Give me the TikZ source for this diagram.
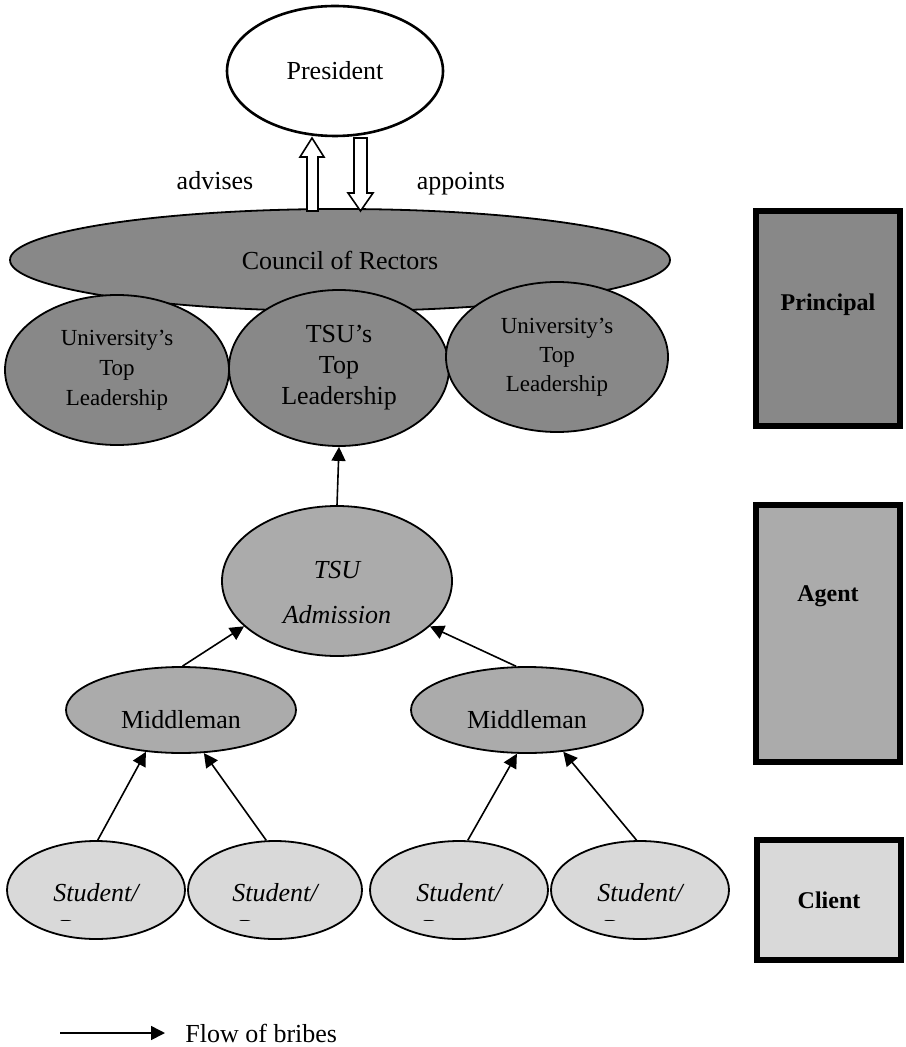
\documentclass[tikz,border=0pt]{standalone}
\usepackage{fontspec}
\setmainfont{Liberation Serif}
\usetikzlibrary{shapes.geometric,arrows.meta}

\definecolor{darkfill}{HTML}{888888}
\definecolor{midfill}{HTML}{ABABAB}
\definecolor{lightfill}{HTML}{D9D9D9}

\tikzset{
  oval/.style={shape=ellipse,draw=black,line width=0.9pt,inner sep=0pt,align=center},
  bribe/.style={-{Triangle[length=7pt,width=7pt]},line width=0.8pt},
  blockarrow/.style={draw=black,fill=white,line width=0.8pt},
  rolebox/.style={shape=rectangle,draw=black,line width=3pt,minimum width=72pt},
  rolename/.style={font=\fontsize{12pt}{14pt}\selectfont\bfseries},
}

\begin{document}
\begin{tikzpicture}[x=0.5pt,y=-0.5pt,font=\fontsize{13pt}{15.5pt}\selectfont]
  \useasboundingbox (0,0) rectangle (905,1047);

  % principal level
  \node[oval,fill=white,line width=1.3pt,minimum width=108pt,minimum height=65pt] (pres) at (335,71) {President};
  \node[oval,fill=darkfill,minimum width=330pt,minimum height=51pt] (cr) at (340,260) {Council of Rectors};
  \node[oval,fill=darkfill,minimum width=112pt,minimum height=75pt,font=\fontsize{11.5pt}{15pt}\selectfont] (u1) at (117,370) {University's\\Top\\Leadership};
  \node[oval,fill=darkfill,minimum width=110pt,minimum height=78pt,font=\fontsize{13pt}{15.5pt}\selectfont] (tsu) at (339,368) {TSU's\\Top\\Leadership};
  \node[oval,fill=darkfill,minimum width=111pt,minimum height=75pt,font=\fontsize{11.5pt}{14.5pt}\selectfont] (u2) at (557,357) {University's\\Top\\Leadership};

  \path[blockarrow] (307,211) -- (318,211) -- (318,157) -- (324,157) -- (312,138) -- (300,157) -- (307,157) -- cycle;
  \path[blockarrow] (354,138) -- (367,138) -- (367,193) -- (373,193) -- (360.5,211) -- (348,193) -- (354,193) -- cycle;
  \node[anchor=base] (adv) at (215,190) {advises};
  \node[anchor=base] (app) at (461,190) {appoints};

  % agent level
  \node[oval,fill=midfill,minimum width=115pt,minimum height=75pt,
        label={[yshift=-5.8pt,font=\fontsize{13pt}{22.5pt}\selectfont\itshape,align=center]center:TSU\\Admission}] (adm) at (337,581) {};
  \node[oval,fill=midfill,minimum width=115pt,minimum height=43pt,label={[yshift=-5pt]center:Middleman}] (m1) at (181,710) {};
  \node[oval,fill=midfill,minimum width=116pt,minimum height=43pt,label={[yshift=-5pt]center:Middleman}] (m2) at (527,710) {};

  % client level
  \node[oval,fill=lightfill,minimum width=89pt,minimum height=49pt,label={[yshift=-1.5pt,font=\fontsize{13pt}{15.5pt}\selectfont\itshape]center:Student/}] (s1) at (96,890) {};
  \node[oval,fill=lightfill,minimum width=87pt,minimum height=49pt,label={[yshift=-1.5pt,font=\fontsize{13pt}{15.5pt}\selectfont\itshape]center:Student/}] (s2) at (275,890) {};
  \node[oval,fill=lightfill,minimum width=89pt,minimum height=49pt,label={[yshift=-1.5pt,font=\fontsize{13pt}{15.5pt}\selectfont\itshape]center:Student/}] (s3) at (459,890) {};
  \node[oval,fill=lightfill,minimum width=89pt,minimum height=49pt,label={[yshift=-1.5pt,font=\fontsize{13pt}{15.5pt}\selectfont\itshape]center:Student/}] (s4) at (640,890) {};
  \begin{scope}
    \clip (0,915) rectangle (760,920);
    \node[anchor=base,font=\fontsize{13pt}{15.5pt}\selectfont\itshape] (p1) at (93,937) {Parent};
    \node[anchor=base,font=\fontsize{13pt}{15.5pt}\selectfont\itshape] (p2) at (272,937) {Parent};
    \node[anchor=base,font=\fontsize{13pt}{15.5pt}\selectfont\itshape] (p3) at (456,937) {Parent};
    \node[anchor=base,font=\fontsize{13pt}{15.5pt}\selectfont\itshape] (p4) at (637,937) {Parent};
  \end{scope}

  % flow of bribes
  \path [bribe](adm.north) edge (tsu.south);
  \path [bribe](m1.88) edge (adm.-154);
  \path [bribe](m2.104) edge (adm.-26);
  \path [bribe](s1.88) edge (m1.-130);
  \path [bribe](s2.100) edge (m1.-62);
  \path [bribe](s3.80) edge (m2.-103);
  \path [bribe](s4.94) edge (m2.-49);

  % roles
  \node[rolebox,fill=darkfill,minimum height=107.5pt,label={[yshift=6.75pt,rolename]center:Principal}] (prin) at (828,318.5) {};
  \node[rolebox,fill=midfill,minimum height=128.5pt,label={[yshift=18.75pt,rolename]center:Agent}] (agent) at (828,633.5) {};
  \node[rolebox,fill=lightfill,minimum height=60pt,label={[rolename]center:Client}] (client) at (829,900) {};

  % legend
  \coordinate (legA) at (60,1033);
  \coordinate (legB) at (165,1033);
  \path [bribe](legA) edge (legB);
  \node[anchor=west,inner sep=0pt] (legtxt) at (185,1033) {Flow of bribes};
\end{tikzpicture}
\end{document}
